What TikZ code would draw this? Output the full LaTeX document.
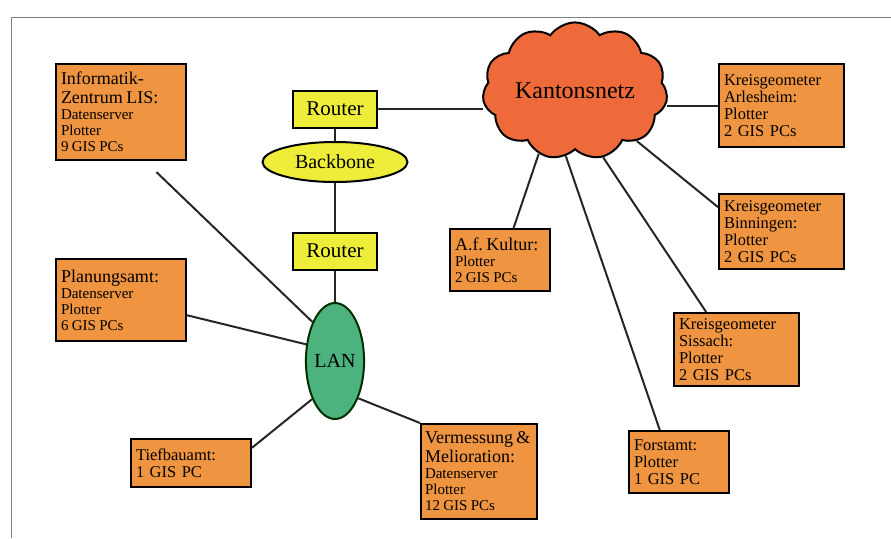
\documentclass[tikz,border=0pt]{standalone}
\usepackage{fontspec}
\setmainfont{Liberation Serif}
\usepackage{xcolor}
\usetikzlibrary{shapes.symbols}
\usetikzlibrary{shapes.geometric}

\definecolor{boxorange}{RGB}{239,148,64}
\definecolor{cloudred}{RGB}{238,106,58}
\definecolor{routeryellow}{RGB}{238,238,58}
\definecolor{langreen}{RGB}{76,178,126}

\newcommand{\hdfont}{\fontsize{18}{19}\selectfont}
\newcommand{\bdfont}{\fontsize{15}{16}\selectfont}
\newcommand{\mdfont}{\fontsize{16.5}{17}\selectfont}

\tikzset{
    amt/.style={draw=black, line width=2pt, fill=boxorange, anchor=north west,
        inner xsep=5pt, inner ysep=4pt, align=left},
    router/.style={draw=black, line width=2pt, fill=routeryellow, minimum width=84pt,
        minimum height=37pt, font=\fontsize{21}{21}\selectfont},
    link/.style={line width=2pt, draw=black!85},
}

\begin{document}
\begin{tikzpicture}[x=1pt,y=1pt,yscale=-1,xscale=1]
            \useasboundingbox (0,0) rectangle (891,538);
            %frame
            \draw [gray, line width=1pt] (891,17) -- (11,17) -- (11,538);
            %
            %backbone side
            \node[router] (rtop) at (335,109) {Router};
            \node[ellipse, draw=black, line width=2pt, fill=routeryellow, minimum width=145pt,
                minimum height=40pt, inner sep=0pt, font=\fontsize{20}{20}\selectfont] (bb) at (335,162) {Backbone};
            \node[router] (rbot) at (335,251) {Router};
            \node[ellipse, draw=black!70!green!60!black, line width=2pt, fill=langreen, minimum width=56pt,
                minimum height=116pt, inner sep=0pt, font=\fontsize{20}{20}\selectfont] (lan) at (335,361) {LAN};
            %
            %Kantonsnetz
            \node[cloud, cloud puffs=11, cloud puff arc=110, aspect=1.45, draw=black, line width=2pt,
                fill=cloudred, minimum width=185pt, minimum height=124pt, inner sep=0pt,
                font=\fontsize{24}{24}\selectfont] (netz) at (575,91) {Kantonsnetz};
            %
            %Aemter am LAN
            \node[amt, text width=120pt, minimum height=96pt] (infz) at (55,63)
                {{\hdfont Informatik-\\Zentrum LIS:\par}{\bdfont Datenserver\\Plotter\\9 GIS PCs\par}};
            \node[amt, text width=120pt, minimum height=82pt] (plan) at (55,258)
                {{\hdfont Planungsamt:\par}{\bdfont Datenserver\\Plotter\\6 GIS PCs\par}};
            \node[amt, text width=110pt, minimum height=48pt, font=\mdfont] (tief) at (130,438)
                {Tiefbauamt:\\1 GIS PC};
            \node[amt, text width=108pt, inner xsep=4pt, minimum height=95pt] (verm) at (420,423)
                {{\hdfont Vermessung~\&\\Melioration:\par}{\bdfont Datenserver\\Plotter\\12 GIS PCs\par}};
            %
            %Aemter am Kantonsnetz
            \node[amt, text width=90pt, minimum height=62pt] (kult) at (449,228)
                {{\hdfont A.f.~Kultur:\par}{\bdfont Plotter\\2 GIS PCs\par}};
            \node[amt, text width=115pt, minimum height=83pt, font=\mdfont] (arle) at (718,63)
                {Kreisgeometer\\Arlesheim:\\Plotter\\2 GIS PCs};
            \node[amt, text width=115pt, minimum height=75pt, font=\mdfont] (binn) at (718,193)
                {Kreisgeometer\\Binningen:\\Plotter\\2 GIS PCs};
            \node[amt, text width=115pt, minimum height=73pt, font=\mdfont] (siss) at (673,312)
                {Kreisgeometer\\Sissach:\\Plotter\\2 GIS PCs};
            \node[amt, text width=90pt, minimum height=62pt, font=\mdfont] (forst) at (628,430)
                {Forstamt:\\Plotter\\1 GIS PC};
            %
            %connections
            \draw[link] (rtop) -- (bb);
            \draw[link] (bb) -- (rbot);
            \draw[link] (rbot) -- (lan);
            \draw[link] (rtop.east) -- (rtop.east -| netz.west);
            \draw[link, shorten <=16pt] (infz.-64) -- (lan.120);
            \draw[link] (plan.-13) -- (lan.150);
            \draw[link] (tief.14) -- (lan.239);
            \draw[link] (verm.north west) -- (lan.302);
            \draw[link] (arle.west) -- (arle.west -| netz.east);
            \draw[link] (netz.240) -- (kult.67);
            \draw[link] (netz.262) -- (forst.121);
            \draw[link] (netz.293) -- (siss.129);
            \draw[link] (netz.321) -- (binn.159);
            %
\end{tikzpicture}
\end{document}
